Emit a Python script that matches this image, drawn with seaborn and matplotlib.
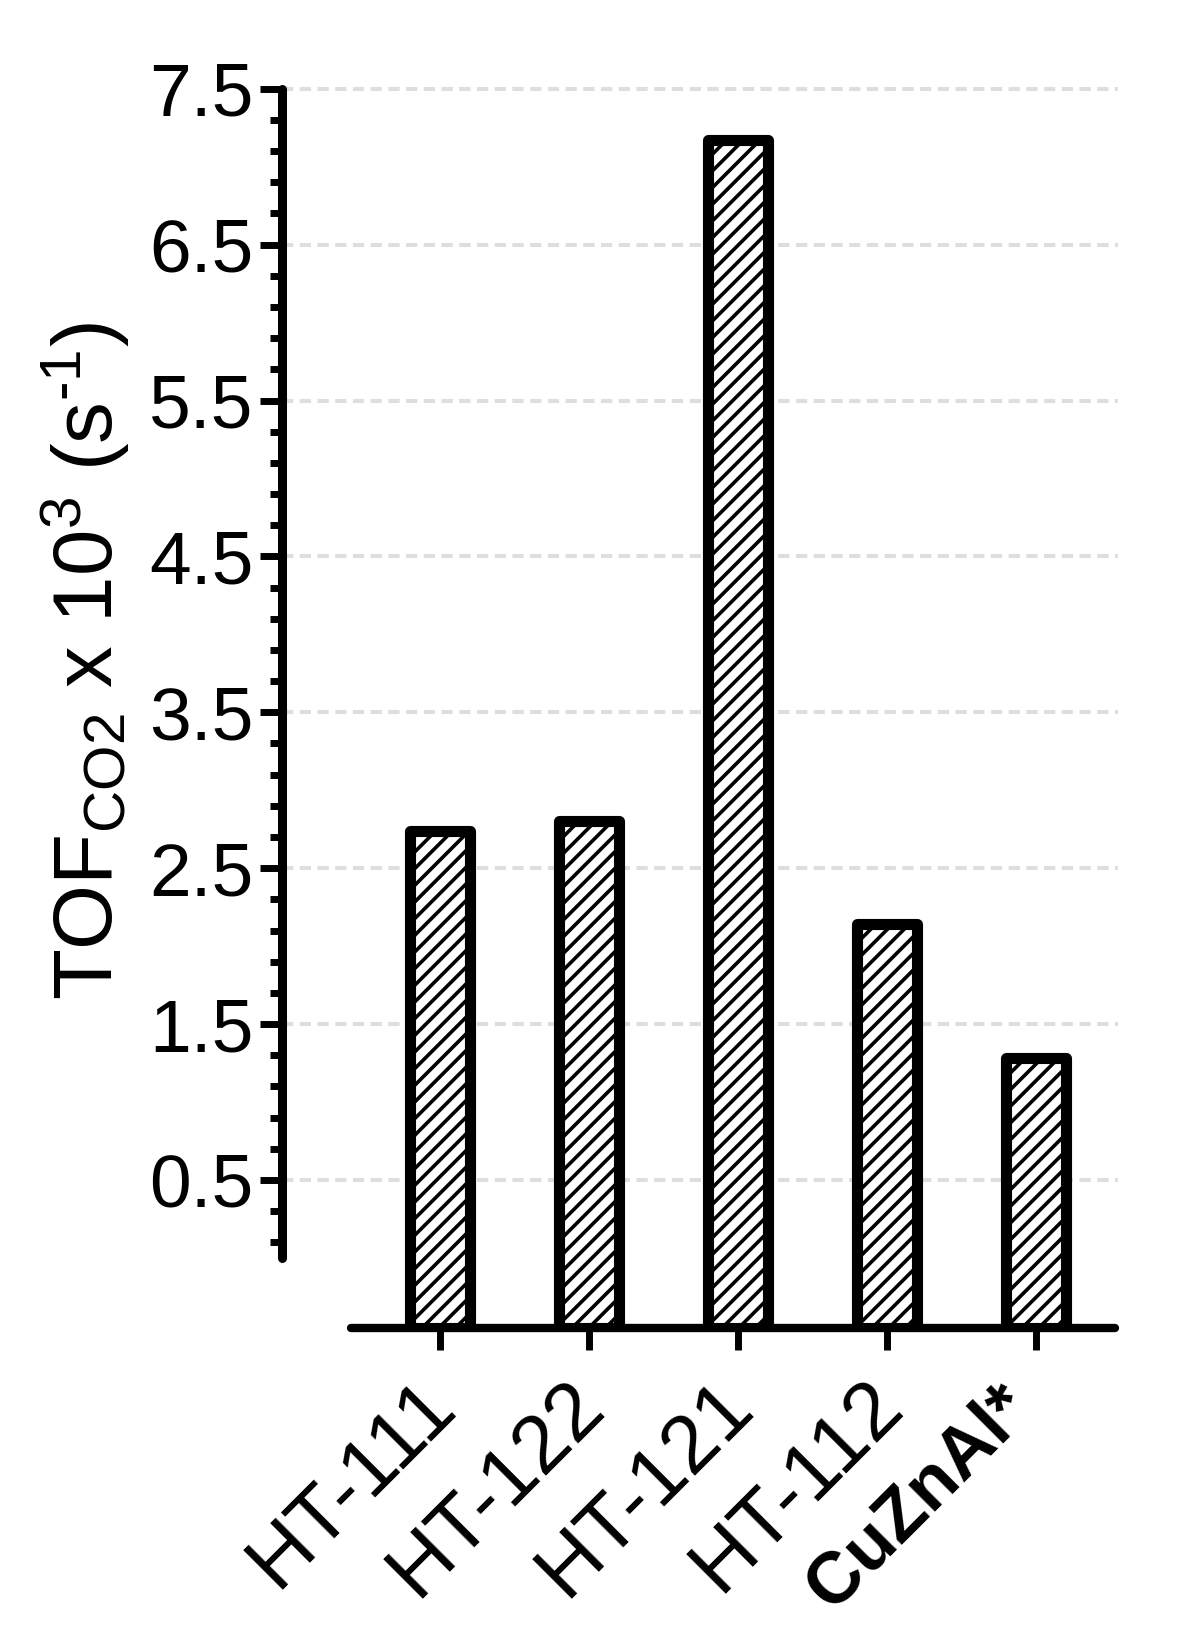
import numpy as np
import matplotlib
matplotlib.use("Agg")
import matplotlib.pyplot as plt
import matplotlib.transforms as mtransforms
import seaborn as sns
from matplotlib.ticker import FixedLocator

# data
catalysts = ["HT-111", "HT-122", "HT-121", "HT-112", "CuZnAl*"]
tof_co2 = [2.74, 2.80, 7.17, 2.14, 1.28]

y_major = np.arange(0.5, 7.6, 1.0)
y_minor = np.arange(0.1, 7.5, 0.2)
y_base = -0.45

sns.set_theme(style="white")
plt.rcParams["font.family"] = ["Liberation Sans", "DejaVu Sans"]
plt.rcParams["mathtext.fontset"] = "custom"
plt.rcParams["mathtext.rm"] = "Liberation Sans"
plt.rcParams["mathtext.it"] = "Liberation Sans:italic"
plt.rcParams["mathtext.bf"] = "Liberation Sans:bold"
plt.rcParams["hatch.linewidth"] = 2.6
plt.rcParams["hatch.color"] = "black"
for key in ["text.color", "axes.labelcolor", "xtick.color", "ytick.color"]:
    plt.rcParams[key] = "black"

fig = plt.figure(figsize=(11.97, 16.46), dpi=100)
ax = fig.add_axes([0.2356, 0.1932, 0.6984, 0.7576])

sns.barplot(x=catalysts, y=tof_co2, color="white", edgecolor="black",
            linewidth=8, hatch="//", width=0.4, ax=ax, zorder=3)

# bars start at the detached x axis line
for p in ax.patches:
    top = p.get_y() + p.get_height()
    p.set_y(y_base)
    p.set_height(top - y_base)
    p.set_joinstyle("round")

ax.set_xlim(-1.06, 4.55)
ax.set_ylim(y_base, 7.55)

ax.yaxis.set_major_locator(FixedLocator(y_major))
ax.yaxis.set_minor_locator(FixedLocator(y_minor))
ax.set_yticklabels([f"{v:.1f}" for v in y_major])

ax.grid(axis="y", which="major", color="#dedede", linewidth=2.9,
        linestyle=(0, (2.8, 1.6)))
ax.set_axisbelow(True)

for side in ["top", "right"]:
    ax.spines[side].set_visible(False)
ax.spines["left"].set_bounds(0, 7.5)
ax.spines["bottom"].set_bounds(-0.6, 4.53)
ax.spines["left"].set_linewidth(6.5)
ax.spines["bottom"].set_linewidth(6)
for side in ["left", "bottom"]:
    ax.spines[side].set_color("black")
    ax.spines[side].set_capstyle("round")

ax.tick_params(axis="y", which="major", direction="out", length=15.5, width=5,
               color="black", labelsize=54, pad=5, left=True)
ax.tick_params(axis="y", which="minor", direction="out", length=9, width=5,
               color="black", left=True)
ax.tick_params(axis="x", which="major", direction="out", length=16, width=5,
               color="black", labelsize=59, pad=12, bottom=True)

ax.set_xticks(range(len(catalysts)))
ax.set_xticklabels(catalysts, rotation=45, ha="right", rotation_mode="anchor")
shift = mtransforms.ScaledTranslation(-0.24, 0, fig.dpi_scale_trans)
for lab in ax.get_xticklabels():
    lab.set_transform(lab.get_transform() + shift)
bold_lab = ax.get_xticklabels()[-1]
bold_lab.set_fontweight("bold")
bold_lab.set_fontsize(52)
bold_lab.set_transform(bold_lab.get_transform()
                       + mtransforms.ScaledTranslation(-0.16, -0.06, fig.dpi_scale_trans))

ax.set_xlabel("")
ax.set_ylabel("TOF$_{\\mathregular{CO2}}$ x 10$^{\\mathregular{3}}$ (s$^{\\mathregular{\u20101}}$)",
              fontsize=60)
ax.yaxis.set_label_coords(-0.18, 0.535)

fig.savefig("out.png", dpi=100)
